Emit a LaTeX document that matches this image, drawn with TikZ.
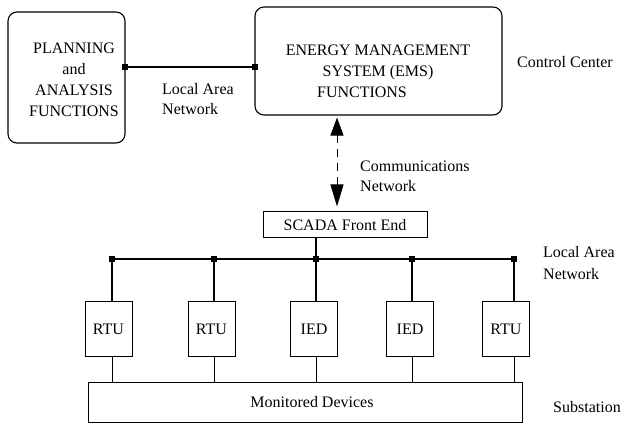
\documentclass[tikz,border=0pt]{standalone}
\usepackage{fontspec}
\setmainfont{Liberation Serif}
\usetikzlibrary{arrows.meta}
\begin{document}
\begin{tikzpicture}[x=1pt,y=-1pt,
  every node/.style={font=\fontsize{16}{21}\selectfont},
  rbox/.style={draw,line width=1.1pt,rounded corners=9pt,inner sep=0pt},
  sbox/.style={draw,line width=1pt,inner sep=0pt},
  sqmark/.style={fill=black,draw=none,minimum size=6pt,inner sep=0pt},
  lbl/.style={anchor=base west,inner sep=0pt,align=left},
  bus/.style={line width=1.1pt},
  thinline/.style={line width=0.6pt}]
\useasboundingbox (0,0) rectangle (633,425);
% control center
\node[rbox,minimum width=117pt,minimum height=131pt] (pa) at (66.5,77.5) {};
\node[align=center,inner sep=0pt] (patext) at (74,79.5) {PLANNING\\and\\ANALYSIS\\FUNCTIONS};
\node[rbox,minimum width=247pt,minimum height=108pt] (ems) at (378.5,61) {};
\node[align=center,inner sep=0pt] (emstext) at (378,71) {ENERGY MANAGEMENT\\SYSTEM (EMS)\hspace*{32pt}\\FUNCTIONS\hspace*{32pt}};
\node[sqmark] (pam) at (125,67) {};
\node[sqmark] (emsm) at (255,67) {};
\draw[bus] (pam) -- (emsm);
\node[lbl] (lan1) at (162,115) {Local Area\\[-1pt]Network};
\node[lbl] (cc) at (517,68) {Control Center};
% SCADA
\node[sbox,minimum width=164pt,minimum height=26pt] (scada) at (345,225) {SCADA Front End};
\draw[line width=1pt,dash pattern=on 8pt off 6pt,
  {Triangle[length=18pt,width=13pt]}-{Triangle[length=22pt,width=13pt]},
  shorten <=2pt,shorten >=5pt]
  (ems.south -| 337,0) -- (scada.north -| 337,0);
\node[lbl] (comm) at (360,192) {Communications\\[-1pt]Network};
% bus
\foreach \i/\x in {1/112,2/214,3/316,4/412,5/514}{
  \node[sqmark] (m\i) at (\x,259) {};
}
\draw[bus] (m1) -- (m5);
\draw[bus] (scada.south -| m3) -- (m3);
\node[lbl] (lan2) at (543,280) {Local Area\\[1pt]Network};
% devices
\foreach \i/\x/\t in {1/108.5/RTU,2/211.5/RTU,3/314/IED,4/410/IED,5/506/RTU}{
  \node[sbox,minimum width=47pt,minimum height=55pt] (b\i) at (\x,329.5) {\t};
}
\node[sbox,minimum width=434pt,minimum height=39pt] (md) at (305,402.5) {\hspace*{14pt}Monitored Devices};
\foreach \i in {1,...,5}{
  \draw[bus] (m\i) -- (m\i |- b\i.north);
  \draw[thinline] (m\i |- b\i.south) -- (m\i |- md.north);
}
\node[lbl] (sub) at (553,413) {Substation};
\end{tikzpicture}
\end{document}
